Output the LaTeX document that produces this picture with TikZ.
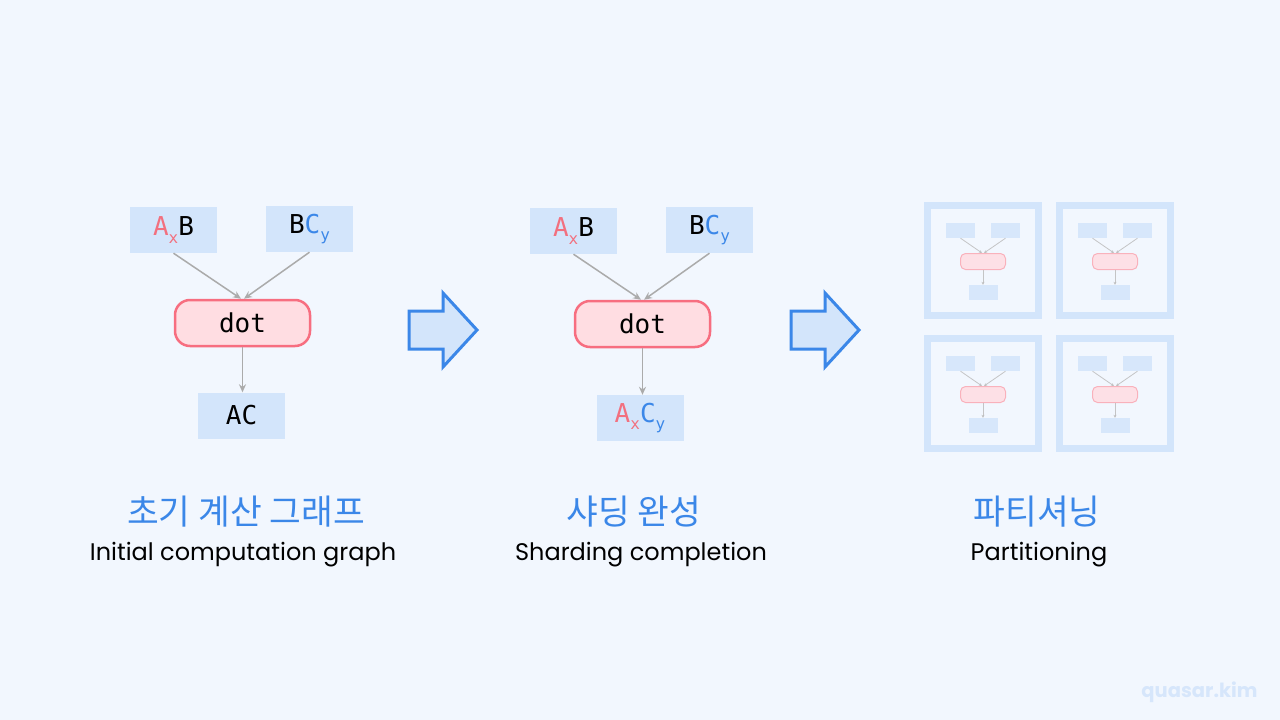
\documentclass[tikz,border=0pt]{standalone}
\usepackage{fontspec}
\setmainfont{Poppins}
\newfontfamily\kofont{Noto Sans CJK KR}
\newfontfamily\monofont{DejaVu Sans Mono}
\usetikzlibrary{arrows.meta}
\definecolor{bgc}{HTML}{F2F7FE}
\definecolor{boxc}{HTML}{D3E5FB}
\definecolor{pinkfill}{HTML}{FFDDE2}
\definecolor{pinkline}{HTML}{F76E80}
\definecolor{redt}{HTML}{F2707F}
\definecolor{bluet}{HTML}{3B87E8}
\definecolor{grayc}{HTML}{ABABAB}
\definecolor{wmc}{HTML}{D6E6FB}
\tikzset{
  tbox/.style={fill=boxc, draw=none, minimum width=87pt, minimum height=46pt, inner sep=0pt, font=\monofont\fontsize{26}{28}\selectfont},
  opbox/.style={fill=pinkfill, draw=pinkline, line width=2.5pt, rounded corners=15pt, minimum width=135pt, minimum height=46pt, inner sep=0pt, font=\monofont\fontsize{26}{28}\selectfont},
  conn/.style={draw=grayc, line width=1.5pt, -{Stealth[length=8pt,width=7pt]}},
  bigarrow/.style={fill=boxc, draw=bluet, line width=3pt, line join=miter},
  kotitle/.style={font=\kofont\fontsize{34.5}{38}\selectfont, text=bluet, anchor=base},
  entitle/.style={font=\fontsize{24}{27}\selectfont, text=black, anchor=base},
  frame/.style={draw=boxc, line width=7pt, fill=none},
  mbox/.style={fill=boxc, draw=none, minimum width=29pt, minimum height=15pt, inner sep=0pt},
  mop/.style={fill=pinkfill, draw=pinkline!60, line width=1pt, rounded corners=5pt, minimum width=45pt, minimum height=16pt, inner sep=0pt},
  mconn/.style={draw=grayc!80, line width=0.8pt, -{Stealth[length=3pt,width=3pt]}},
  minigraph/.pic={
    \node[mbox] (-a) at (-22.5,-30) {};
    \node[mbox] (-b) at (22.5,-30) {};
    \node[mop] (-d) at (0,1) {};
    \node[mbox] (-c) at (0,32) {};
    \draw[mconn] (-a.south) -- ([xshift=-1pt]-d.north);
    \draw[mconn] (-b.south) -- ([xshift=1pt]-d.north);
    \draw[mconn] (-d.south) -- (-c.north);
  }
}
\newcommand{\sx}[1]{\raisebox{-0.28em}{\fontsize{16}{16}\selectfont #1}}
\begin{document}
\begin{tikzpicture}[x=1pt,y=-1pt]
\useasboundingbox[fill=bgc] (0,0) rectangle (1280,720);

% panel 1
\node[tbox] (a1) at (173.5,230) {\textcolor{redt}{A\sx{x}}B};
\node[tbox] (b1) at (309.5,229) {B\textcolor{bluet}{C\sx{y}}};
\node[opbox] (d1) at (242.5,323) {dot};
\node[tbox] (c1) at (241.5,415.5) {AC};
\draw[conn] (a1.south) -- ([xshift=-1.5pt]d1.north);
\draw[conn] (b1.south) -- ([xshift=1.5pt]d1.north);
\draw[conn] (d1.south) -- (d1.south |- c1.north);
\node[kotitle] (k1) at (246,524) {초기 계산 그래프};
\node[entitle] (e1) at (243,560) {Initial computation graph};

% arrow 1
\draw[bigarrow] (409,311) -- (443,311) -- (443,293) -- (477,330) -- (443,367) -- (443,349) -- (409,349) -- cycle;

% panel 2
\node[tbox] (a2) at (573.5,231) {\textcolor{redt}{A\sx{x}}B};
\node[tbox] (b2) at (709.5,230) {B\textcolor{bluet}{C\sx{y}}};
\node[opbox] (d2) at (642.5,324) {dot};
\node[tbox] (c2) at (640,418) {\textcolor{redt}{A\sx{x}}\textcolor{bluet}{C\sx{y}}};
\draw[conn] (a2.south) -- ([xshift=-1.5pt]d2.north);
\draw[conn] (b2.south) -- ([xshift=1.5pt]d2.north);
\draw[conn] (d2.south) -- (d2.south |- c2.north);
\node[kotitle] (k2) at (634,524) {샤딩 완성};
\node[entitle] (e2) at (641,560) {Sharding completion};

% arrow 2
\draw[bigarrow] (791,311) -- (825,311) -- (825,293) -- (859,330) -- (825,367) -- (825,349) -- (791,349) -- cycle;

% panel 3
\foreach \cx/\cy/\nm in {983/260.5/m1, 1115/260.5/m2, 983/393.5/m3, 1115/393.5/m4}{
  \draw[frame] (\cx-55.5,\cy-55) rectangle (\cx+55.5,\cy+55);
  \pic[opacity=0.85] (\nm) at (\cx,\cy) {minigraph};
}
\node[kotitle] (k3) at (1037,524) {파티셔닝};
\node[entitle] (e3) at (1039,560) {Partitioning};

% watermark
\node[font=\bfseries\fontsize{19.5}{22}\selectfont, text=wmc, anchor=base east] (wm) at (1261,697) {quasar.kim};
\end{tikzpicture}
\end{document}
